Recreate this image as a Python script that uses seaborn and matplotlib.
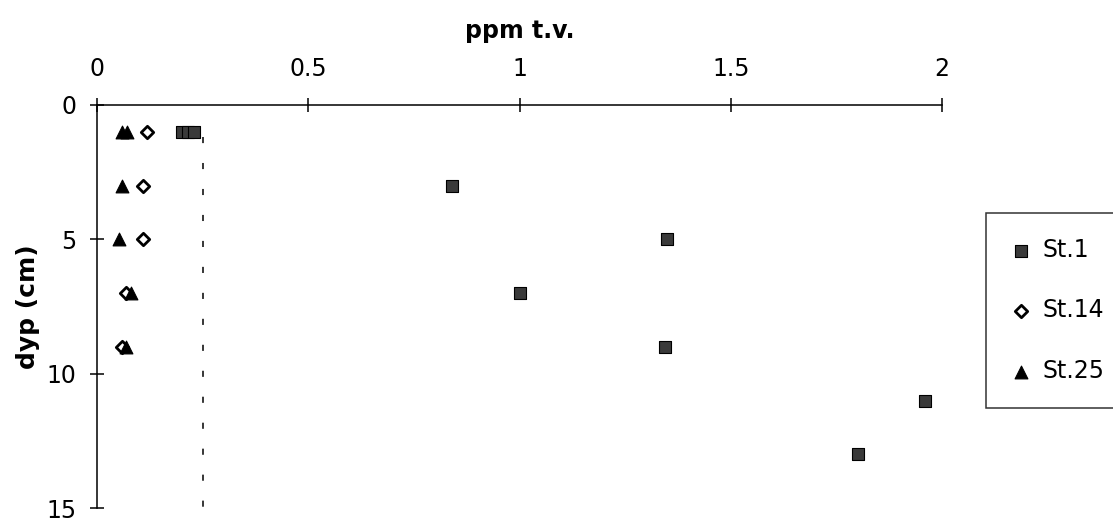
import matplotlib
matplotlib.use("Agg")
import matplotlib.pyplot as plt
import seaborn as sns
import pandas as pd

# ---- data ----
st1_ppm = [0.20, 0.215, 0.23, 0.84, 1.35, 1.00, 1.345, 1.96, 1.80]
st1_depth = [1, 1, 1, 3, 5, 7, 9, 11, 13]
st14_ppm = [0.118, 0.11, 0.11, 0.069, 0.059]
st14_depth = [1, 3, 5, 7, 9]
st25_ppm = [0.060, 0.072, 0.059, 0.052, 0.080, 0.069]
st25_depth = [1, 1, 3, 5, 7, 9]
limit_ppm = [0.25, 0.25]
limit_depth = [1.2, 15]
x_ticks = [0, 0.5, 1, 1.5, 2]
x_ticklabels = ["0", "0.5", "1", "1.5", "2"]
y_ticks = [0, 5, 10, 15]
series_names = ["St.1", "St.14", "St.25"]

df = pd.concat([
    pd.DataFrame({"ppm": st1_ppm, "depth": st1_depth, "station": series_names[0]}),
    pd.DataFrame({"ppm": st14_ppm, "depth": st14_depth, "station": series_names[1]}),
    pd.DataFrame({"ppm": st25_ppm, "depth": st25_depth, "station": series_names[2]}),
], ignore_index=True)

sns.set_style("white")
plt.rcParams['font.family'] = ['DejaVu Sans']
plt.rcParams['text.color'] = 'black'

fig = plt.figure(figsize=(11.13, 5.22), dpi=100)
ax = fig.add_axes([97/1113, 1-508/522, (942-97)/1113, (508-105)/522])

# limit line
sns.lineplot(x=limit_ppm, y=limit_depth, ax=ax, color="black", lw=1.1,
             dashes=False, sort=False, estimator=None, legend=False)
ax.lines[-1].set_dashes([4, 13])

styles = {
    "St.1": dict(marker="s", s=70, facecolor="#3a3a3a", edgecolor="black", linewidth=0.8),
    "St.14": dict(marker="D", s=40, facecolor="white", edgecolor="black", linewidth=2.0),
    "St.25": dict(marker="^", s=85, facecolor="black", edgecolor="black", linewidth=0.8),
}
for name in series_names:
    sub = df[df["station"] == name]
    sns.scatterplot(data=sub, x="ppm", y="depth", ax=ax, label=name, zorder=3, **styles[name])

ax.set_xlim(0, 2)
ax.set_ylim(15, 0)
ax.set_xticks(x_ticks)
ax.set_xticklabels(x_ticklabels)
ax.set_yticks(y_ticks)

ax.xaxis.tick_top()
ax.xaxis.set_label_position("top")
for s in ["bottom", "right"]:
    ax.spines[s].set_visible(False)
for s in ["top", "left"]:
    ax.spines[s].set_color("black")
    ax.spines[s].set_linewidth(1.1)

ax.tick_params(axis="x", direction="inout", length=10, width=1.1, pad=12,
               labelsize=17, colors="black", top=True, bottom=False)
ax.tick_params(axis="y", direction="inout", length=10, width=1.1, pad=10,
               labelsize=17, colors="black", left=True)

ax.set_xlabel("ppm t.v.", fontsize=17, fontweight="bold", labelpad=14, color="black")
ax.set_ylabel("dyp (cm)", fontsize=18, fontweight="bold", labelpad=4, color="black")

leg = ax.legend(loc="upper left", bbox_to_anchor=(986/1113, 1-213/522),
                bbox_transform=fig.transFigure, fontsize=17, frameon=True,
                fancybox=False, edgecolor="black", labelspacing=1.55,
                borderpad=1.05, handletextpad=0.45, handlelength=0.9,
                borderaxespad=0)
leg.get_frame().set_linewidth(1.1)
for t in leg.get_texts():
    t.set_color("black")

fig.savefig("out.png", dpi=100, facecolor="white")
